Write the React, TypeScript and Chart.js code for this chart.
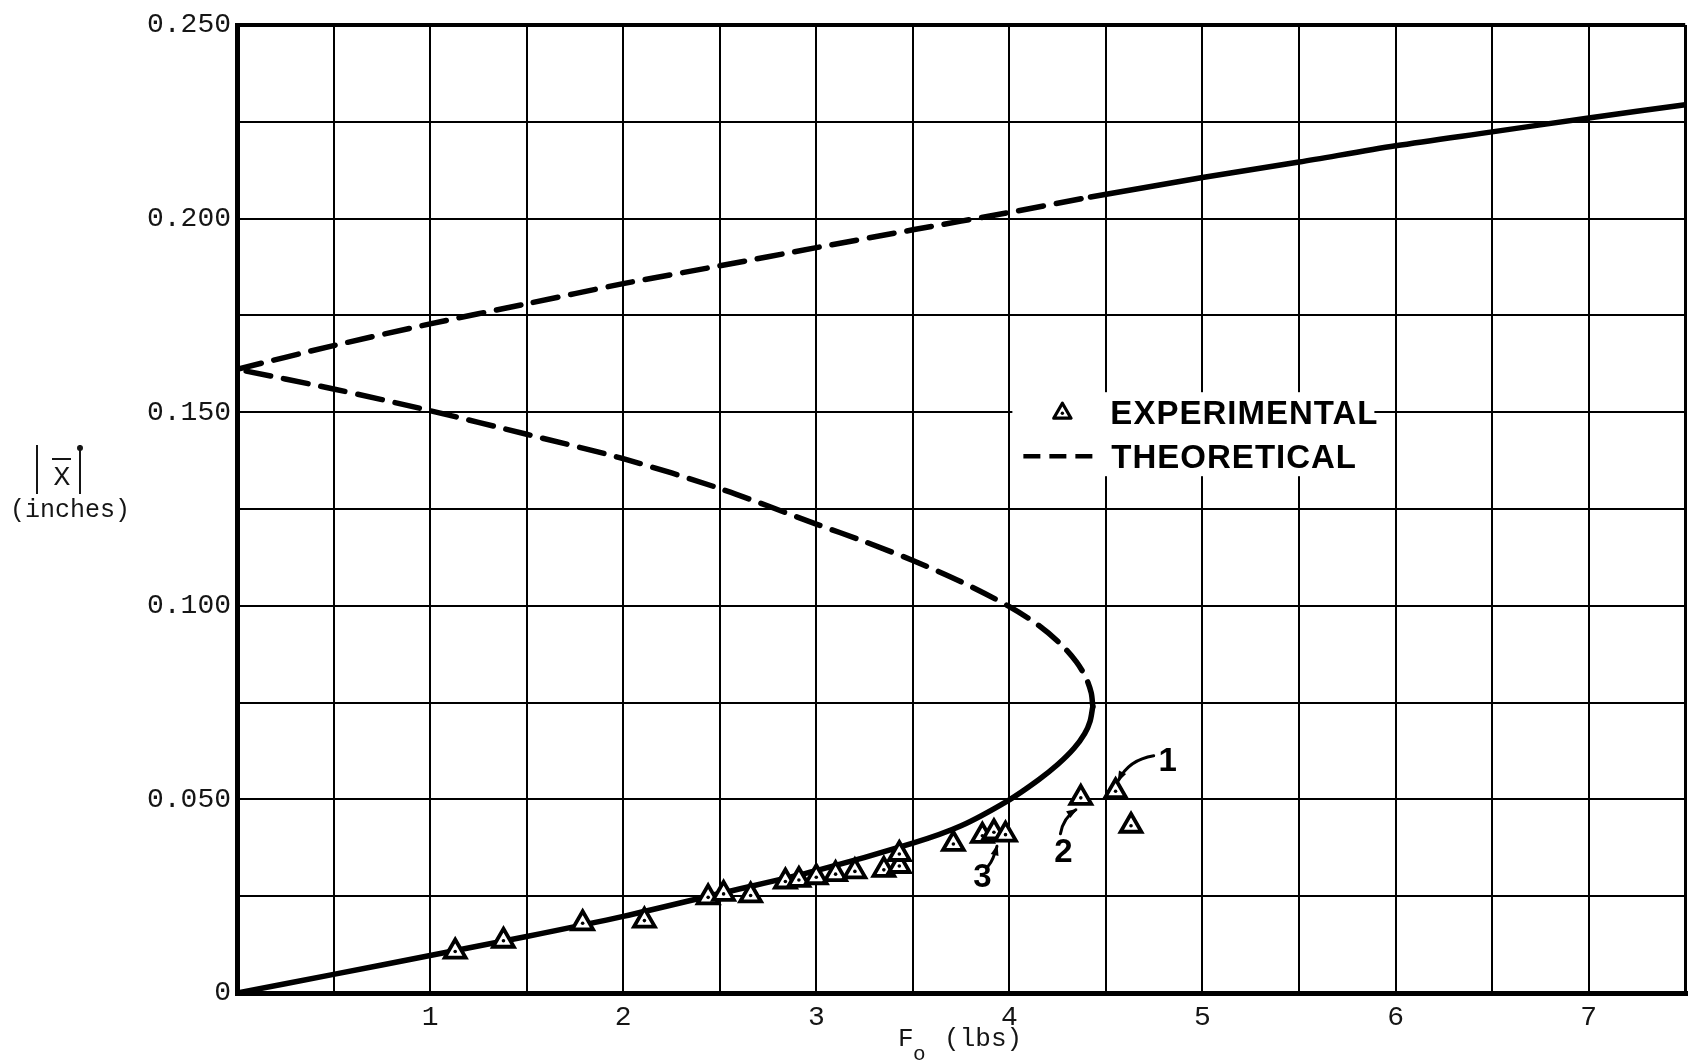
import React, { useEffect, useRef } from 'react';
import { Chart, registerables } from 'chart.js';

Chart.register(...registerables);

// Theoretical response |X| (inches) against force amplitude Fo (lbs)
// Lower (stable) branch, drawn solid up to the vertical tangent
const lowerF = [0, 0.5, 1.0, 1.5, 2.0, 2.5, 3.0, 3.5, 3.75, 4.0, 4.15, 4.25, 4.335, 4.39, 4.418, 4.432];
const lowerX = [0, 0.0048, 0.0097, 0.0146, 0.0198, 0.0257, 0.0316, 0.0387, 0.0432, 0.0499, 0.055, 0.059, 0.0632, 0.067, 0.0702, 0.074];

// Middle (unstable) branch, dashed, from the vertical tangent back to Fo = 0
const middleF = [4.432, 4.424, 4.396, 4.347, 4.268, 4.15, 4.0, 3.75, 3.5, 3.25, 3.0, 2.5, 2.0, 1.5, 1.0, 0.5, 0];
const middleX = [0.074, 0.0775, 0.0815, 0.0855, 0.09, 0.095, 0.0998, 0.1062, 0.1117, 0.1166, 0.1211, 0.1303, 0.138, 0.1443, 0.1504, 0.156, 0.1611];

// Upper branch: dashed up to the jump force, solid beyond it
const upperDashF = [0, 0.5, 1.0, 1.5, 2.0, 2.5, 3.0, 3.5, 4.0, 4.42];
const upperDashX = [0.1611, 0.1672, 0.1728, 0.178, 0.1832, 0.1878, 0.1925, 0.1971, 0.2016, 0.2056];
const upperSolidF = [4.42, 5.0, 5.5, 6.0, 6.5, 7.0, 7.5];
const upperSolidX = [0.2056, 0.2106, 0.2146, 0.2188, 0.2224, 0.226, 0.2294];

// Experimental measurements
const expF = [1.13, 1.38, 1.79, 2.11, 2.44, 2.52, 2.66, 2.84, 2.91, 3.0, 3.1, 3.2, 3.35, 3.43, 3.43, 3.71, 3.86, 3.92, 3.98, 4.37, 4.55, 4.63];
const expX = [0.0107, 0.0135, 0.018, 0.0187, 0.0247, 0.0256, 0.0252, 0.0288, 0.0292, 0.0299, 0.0307, 0.0314, 0.0318, 0.0328, 0.0359, 0.0385, 0.0406, 0.0415, 0.0409, 0.0504, 0.0521, 0.0432];

// Numbered call-outs: label text, label position (Fo, |X|), index of the marked point
const calloutText = ['1', '2', '3'];
const calloutF = [4.82, 4.28, 3.86];
const calloutX = [0.0605, 0.037, 0.0305];
const calloutPoint = [20, 19, 17];

// Axis ranges and tick spacing
const fRange = [0, 7.5];
const xRange = [0, 0.25];
const fStep = 0.5;
const xStep = 0.025;

const legendLabels = ['EXPERIMENTAL', 'THEORETICAL'];

const pts = (fs: number[], xs: number[]) => fs.map((f, i) => ({ x: f, y: xs[i] }));

const MONO = '"Liberation Mono", "DejaVu Sans Mono", monospace';
const LETTER = '"Liberation Sans", Arial, sans-serif';
const INK = '#000';
const TEXT = '#151515';

// pixel offsets for call-out arrows (tail from label, head from marker) and bend control
const arrowGeom = [
  { tail: [-14, -3], head: [3, -11], ctrl: [-39, 1] },
  { tail: [-3, -16], head: [-5, 12], ctrl: [0, -32] },
  { tail: [6, -9], head: [3, 14], ctrl: [11, -15] },
];

function drawTriangle(ctx: CanvasRenderingContext2D, x: number, y: number, r: number, lw: number) {
  ctx.save();
  ctx.beginPath();
  for (let k = 0; k < 3; k++) {
    const a = (k * 2 * Math.PI) / 3;
    const px = x + Math.sin(a) * r;
    const py = y - Math.cos(a) * r;
    if (k === 0) ctx.moveTo(px, py);
    else ctx.lineTo(px, py);
  }
  ctx.closePath();
  ctx.fillStyle = '#fff';
  ctx.fill();
  ctx.lineWidth = lw;
  ctx.strokeStyle = INK;
  ctx.lineJoin = 'round';
  ctx.stroke();
  ctx.beginPath();
  ctx.arc(x, y, 1.7, 0, Math.PI * 2);
  ctx.fillStyle = INK;
  ctx.fill();
  ctx.restore();
}

const decorPlugin = {
  id: 'decor',
  beforeDraw(chart: any) {
    const { ctx, width, height } = chart;
    ctx.save();
    ctx.fillStyle = '#fff';
    ctx.fillRect(0, 0, width, height);
    ctx.restore();
  },
  afterDraw(chart: any) {
    const { ctx, chartArea } = chart;
    const xs = chart.scales.x;
    const ys = chart.scales.y;
    ctx.save();

    // ---- legend ----
    const row1 = ys.getPixelForValue(0.15);
    const row2 = row1 + 44;
    const boxL = xs.getPixelForValue(4) + 3;
    ctx.fillStyle = '#fff';
    ctx.fillRect(boxL, row1 - 20, 362, row2 - row1 + 40);
    drawTriangle(ctx, boxL + 50, row1 + 1, 10, 3.2);
    ctx.fillStyle = INK;
    ctx.font = `bold 33px ${LETTER}`;
    (ctx as any).letterSpacing = '1px';
    ctx.textAlign = 'left';
    ctx.textBaseline = 'alphabetic';
    ctx.fillText(legendLabels[0], boxL + 98, row1 + 12);
    ctx.fillText(legendLabels[1], boxL + 99, row2 + 12);
    (ctx as any).letterSpacing = '0px';
    ctx.beginPath();
    ctx.setLineDash([17, 9]);
    ctx.lineWidth = 4.5;
    ctx.strokeStyle = INK;
    ctx.moveTo(boxL + 11, row2);
    ctx.lineTo(boxL + 88, row2);
    ctx.stroke();
    ctx.setLineDash([]);

    // ---- numbered call-outs ----
    ctx.font = `bold 33px ${LETTER}`;
    ctx.textAlign = 'center';
    ctx.textBaseline = 'alphabetic';
    calloutText.forEach((t, i) => {
      const lx = xs.getPixelForValue(calloutF[i]);
      const ly = ys.getPixelForValue(calloutX[i]);
      const j = calloutPoint[i];
      const tx = xs.getPixelForValue(expF[j]);
      const ty = ys.getPixelForValue(expX[j]);
      const g = arrowGeom[i];
      ctx.fillStyle = INK;
      ctx.fillText(t, lx, ly + 12);
      const ax = lx + g.tail[0];
      const ay = ly + g.tail[1];
      const bx = tx + g.head[0];
      const by = ty + g.head[1];
      const cx = lx + g.ctrl[0];
      const cy = ly + g.ctrl[1];
      ctx.beginPath();
      ctx.lineWidth = 3;
      ctx.lineCap = 'round';
      ctx.strokeStyle = INK;
      ctx.moveTo(ax, ay);
      ctx.quadraticCurveTo(cx, cy, bx, by);
      ctx.stroke();
      const ang = Math.atan2(by - cy, bx - cx);
      const L = 9;
      const W = 4;
      ctx.beginPath();
      ctx.moveTo(bx + Math.cos(ang) * 2, by + Math.sin(ang) * 2);
      ctx.lineTo(bx - Math.cos(ang) * L + Math.sin(ang) * W, by - Math.sin(ang) * L - Math.cos(ang) * W);
      ctx.lineTo(bx - Math.cos(ang) * L - Math.sin(ang) * W, by - Math.sin(ang) * L + Math.cos(ang) * W);
      ctx.closePath();
      ctx.fill();
    });

    // ---- y-axis title: |X| with overbar, (inches) ----
    const midY = (chartArea.top + chartArea.bottom) / 2;
    ctx.strokeStyle = TEXT;
    ctx.lineWidth = 2;
    ctx.lineCap = 'butt';
    ctx.beginPath();
    ctx.moveTo(37, midY - 64);
    ctx.lineTo(37, midY - 15);
    ctx.moveTo(80, midY - 64);
    ctx.lineTo(80, midY - 15);
    ctx.moveTo(52, midY - 50);
    ctx.lineTo(71, midY - 50);
    ctx.stroke();
    ctx.beginPath();
    ctx.arc(80, midY - 61, 2, 0, Math.PI * 2);
    ctx.stroke();
    ctx.fillStyle = TEXT;
    ctx.font = `28px ${MONO}`;
    ctx.textAlign = 'center';
    ctx.textBaseline = 'middle';
    ctx.fillText('X', 62, midY - 31);
    ctx.font = `25px ${MONO}`;
    ctx.fillText('(inches)', 70, midY + 1);

    // ---- x-axis title: Fo (lbs) ----
    const midX = (chartArea.left + chartArea.right) / 2;
    ctx.textAlign = 'left';
    ctx.textBaseline = 'alphabetic';
    ctx.font = `26px ${MONO}`;
    ctx.fillText('F', midX - 63, 1046);
    ctx.font = `21px ${MONO}`;
    ctx.fillText('o', midX - 48, 1060);
    ctx.font = `26px ${MONO}`;
    ctx.fillText('(lbs)', midX - 17, 1046);

    ctx.restore();
  },
};

const lineDs = (data: any[], dashed: boolean) => ({
  data,
  showLine: true,
  borderColor: INK,
  borderWidth: 5.5,
  borderDash: dashed ? [25, 13] : [],
  borderCapStyle: 'round',
  borderJoinStyle: 'round',
  pointRadius: 0,
  tension: 0.3,
  fill: false,
  order: 3,
});

export default function App() {
  const ref = useRef<HTMLCanvasElement>(null);

  useEffect(() => {
    const canvas = ref.current;
    if (!canvas) return;
    const expPts = pts(expF, expX);
    const chart = new Chart(canvas, {
      type: 'scatter',
      data: {
        datasets: [
          {
            data: expPts,
            pointStyle: 'circle',
            pointRadius: 1.8,
            pointBackgroundColor: INK,
            pointBorderWidth: 0,
            order: 0,
          } as any,
          {
            data: expPts,
            pointStyle: 'triangle',
            pointRadius: 12,
            pointBorderWidth: 3.8,
            pointBackgroundColor: '#fff',
            pointBorderColor: INK,
            order: 1,
          } as any,
          lineDs(pts(lowerF, lowerX), false),
          lineDs(pts(middleF, middleX), true),
          lineDs(pts(upperDashF, upperDashX), true),
          lineDs(pts(upperSolidF, upperSolidX), false),
        ],
      },
      options: {
        responsive: false,
        animation: false,
        devicePixelRatio: 1,
        events: [],
        layout: { padding: { left: 0, top: 25, right: 1, bottom: 0 } },
        plugins: { legend: { display: false }, tooltip: { enabled: false } },
        scales: {
          x: {
            type: 'linear',
            min: fRange[0],
            max: fRange[1],
            afterFit: (s: any) => {
              s.height = 70;
            },
            ticks: {
              stepSize: fStep,
              autoSkip: false,
              maxRotation: 0,
              padding: 8,
              color: TEXT,
              font: { family: MONO, size: 28 },
              callback: (v: any) => (Number.isInteger(v) && v > 0 ? String(v) : ''),
            },
            grid: {
              color: INK,
              drawTicks: false,
              lineWidth: (c: any) => (c.tick && c.tick.value === 0 ? 5 : c.tick && c.tick.value === fRange[1] ? 3 : 2),
            },
            border: { display: true, color: INK, width: 5 },
          },
          y: {
            type: 'linear',
            min: xRange[0],
            max: xRange[1],
            afterFit: (s: any) => {
              s.width = 237;
            },
            ticks: {
              stepSize: xStep,
              autoSkip: false,
              padding: 6,
              color: TEXT,
              font: { family: MONO, size: 28 },
              callback: (v: any) => {
                const m = Math.round(v * 1000);
                if (m % 50 !== 0) return '';
                return m === 0 ? '0' : (m / 1000).toFixed(3);
              },
            },
            grid: {
              color: INK,
              drawTicks: false,
              lineWidth: (c: any) => (c.tick && Math.abs(c.tick.value) < 1e-9 ? 5 : c.tick && Math.abs(c.tick.value - xRange[1]) < 1e-9 ? 4 : 2),
            },
            border: { display: true, color: INK, width: 5 },
          },
        },
      } as any,
      plugins: [decorPlugin],
    });
    return () => chart.destroy();
  }, []);

  return (
    <div style={{ position: 'absolute', left: 0, top: 0, width: 1701, height: 1063, background: '#fff' }}>
      <canvas ref={ref} width={1701} height={1063} style={{ display: 'block', width: 1701, height: 1063 }} />
    </div>
  );
}
